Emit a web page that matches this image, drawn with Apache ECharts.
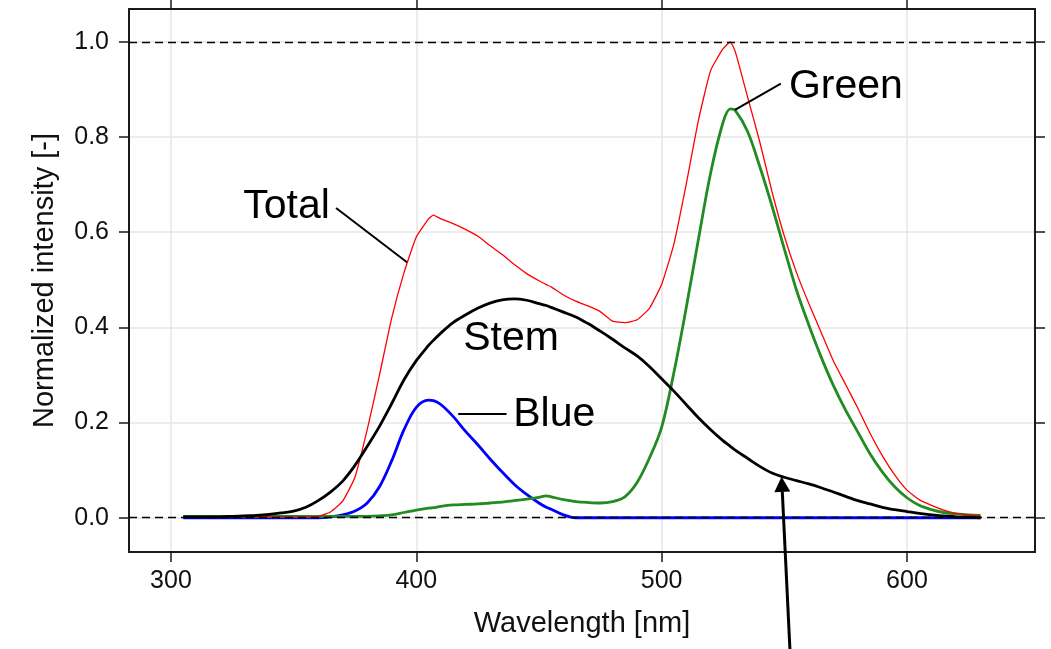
<!DOCTYPE html>
<html>
<head>
<meta charset="utf-8">
<script src="https://cdn.jsdelivr.net/npm/echarts@6/dist/echarts.min.js"></script>
<style>
  html, body { margin: 0; padding: 0; background: #fff; }
  #chart { width: 1051px; height: 649px; }
</style>
</head>
<body>
<div id="chart"></div>
<script>
// wavelength grid [nm] shared by all spectra
const wavelength = [305, 310, 315, 320, 325, 330, 335, 340, 345, 350, 355, 360, 365, 370, 375, 380, 385, 390, 395, 400, 405, 407,
  410, 415, 420, 425, 430, 435, 440, 445, 450, 453, 455, 460, 465, 470, 475, 480, 485, 490, 495, 500, 505, 510, 515, 520, 525, 528,
  530, 535, 540, 545, 550, 555, 560, 565, 570, 575, 580, 585, 590, 595, 600, 605, 610, 615, 620, 625, 630];

const total = [0.002, 0.002, 0.002, 0.002, 0.002, 0.002, 0.002, 0.002, 0.002, 0.002, 0.002, 0.003, 0.012, 0.035, 0.085, 0.185, 0.300, 0.420, 0.515, 0.590, 0.628, 0.636,
  0.628, 0.618, 0.606, 0.592, 0.572, 0.553, 0.532, 0.513, 0.498, 0.490, 0.485, 0.468, 0.455, 0.445, 0.433, 0.413, 0.410, 0.416, 0.440, 0.490, 0.575, 0.700, 0.835, 0.940, 0.985, 1.000,
  0.980, 0.885, 0.790, 0.685, 0.592, 0.515, 0.450, 0.390, 0.330, 0.280, 0.230, 0.177, 0.130, 0.090, 0.058, 0.038, 0.026, 0.016, 0.009, 0.006, 0.004];

const green = [0.003, 0.003, 0.003, 0.003, 0.003, 0.003, 0.003, 0.003, 0.003, 0.003, 0.003, 0.003, 0.003, 0.003, 0.003, 0.003, 0.004, 0.006, 0.011, 0.016, 0.020, 0.021,
  0.024, 0.027, 0.028, 0.029, 0.031, 0.033, 0.036, 0.039, 0.043, 0.046, 0.044, 0.038, 0.034, 0.032, 0.031, 0.034, 0.044, 0.074, 0.125, 0.190, 0.305, 0.440, 0.585, 0.725, 0.830, 0.859,
  0.856, 0.812, 0.738, 0.655, 0.565, 0.478, 0.405, 0.338, 0.278, 0.226, 0.180, 0.134, 0.096, 0.065, 0.042, 0.026, 0.017, 0.011, 0.008, 0.006, 0.005];

const blue = [0, 0, 0, 0, 0, 0, 0, 0, 0, 0, 0, 0, 0.002, 0.006, 0.014, 0.031, 0.065, 0.120, 0.185, 0.232, 0.247, 0.246,
  0.238, 0.213, 0.182, 0.154, 0.124, 0.096, 0.070, 0.049, 0.031, 0.022, 0.018, 0.006, 0, 0, 0, 0, 0, 0, 0, 0, 0, 0, 0, 0, 0, 0,
  0, 0, 0, 0, 0, 0, 0, 0, 0, 0, 0, 0, 0, 0, 0, 0, 0, 0, 0, 0, 0];

const stem = [0.002, 0.002, 0.002, 0.002, 0.003, 0.004, 0.005, 0.007, 0.010, 0.014, 0.022, 0.036, 0.054, 0.077, 0.110, 0.150, 0.192, 0.240, 0.290, 0.330, 0.362, 0.373,
  0.388, 0.410, 0.426, 0.440, 0.451, 0.458, 0.460, 0.457, 0.450, 0.446, 0.442, 0.432, 0.422, 0.408, 0.392, 0.375, 0.357, 0.340, 0.318, 0.292, 0.266, 0.238, 0.210, 0.185, 0.162, 0.150,
  0.142, 0.125, 0.108, 0.094, 0.085, 0.078, 0.071, 0.063, 0.054, 0.045, 0.036, 0.029, 0.022, 0.017, 0.013, 0.009, 0.006, 0.004, 0.002, 0.001, 0.000];

const xTicks = [300, 400, 500, 600];
const yTicks = [0, 0.2, 0.4, 0.6, 0.8, 1.0];
const refLines = [0, 1.0];

const X_MIN = 282.9, X_MAX = 652.2;
const Y_MIN = -0.072, Y_MAX = 1.069;

const FONT = '"Liberation Sans", Arial, sans-serif';
const AXIS_COLOR = '#111';

const pair = arr => wavelength.map((w, i) => [w, arr[i]]);

const chart = echarts.init(document.getElementById('chart'));

const frameAxis = {
  type: 'value',
  axisLine: { show: true, onZero: false, lineStyle: { color: '#1a1a1a', width: 2 } },
  axisTick: { show: true, inside: false, length: 10, lineStyle: { color: '#1a1a1a', width: 1.5 } }
};

const option = {
  animation: false,
  backgroundColor: '#fff',
  grid: { left: 129, right: 16, top: 9, bottom: 97, containLabel: false },
  xAxis: [
    {
      ...frameAxis,
      position: 'bottom',
      min: X_MIN, max: X_MAX,
      axisTick: { ...frameAxis.axisTick, customValues: xTicks },
      axisLabel: { customValues: xTicks, fontSize: 25, fontFamily: FONT, color: AXIS_COLOR, margin: 17 },
      splitLine: { show: true, lineStyle: { color: '#e6e6e6', width: 1.5 } },
      name: 'Wavelength [nm]',
      nameLocation: 'middle',
      nameGap: 57,
      nameTextStyle: { fontSize: 29, fontFamily: FONT, color: AXIS_COLOR }
    },
    {
      ...frameAxis,
      position: 'top',
      min: X_MIN, max: X_MAX,
      axisTick: { ...frameAxis.axisTick, length: 9, customValues: xTicks },
      axisLabel: { show: false },
      splitLine: { show: false }
    }
  ],
  yAxis: [
    {
      ...frameAxis,
      position: 'left',
      min: Y_MIN, max: Y_MAX,
      axisTick: { ...frameAxis.axisTick, customValues: yTicks },
      axisLabel: {
        customValues: yTicks, fontSize: 25, fontFamily: FONT, color: AXIS_COLOR, margin: 20,
        formatter: v => v.toFixed(1)
      },
      splitLine: { show: true, lineStyle: { color: '#e6e6e6', width: 1.5 } },
      name: 'Normalized intensity [-]',
      nameLocation: 'middle',
      nameGap: 70,
      nameTextStyle: { fontSize: 29, fontFamily: FONT, color: AXIS_COLOR }
    },
    {
      ...frameAxis,
      position: 'right',
      min: Y_MIN, max: Y_MAX,
      axisTick: { ...frameAxis.axisTick, customValues: yTicks },
      axisLabel: { show: false },
      splitLine: { show: false }
    }
  ],
  series: [
    {
      name: 'Blue', type: 'line', data: pair(blue), showSymbol: false, smooth: 0.35,
      lineStyle: { color: '#0000ff', width: 2.8 }, z: 2
    },
    {
      name: 'Green', type: 'line', data: pair(green), showSymbol: false, smooth: 0.35,
      lineStyle: { color: '#228b22', width: 2.8 }, z: 3
    },
    {
      name: 'Total', type: 'line', data: pair(total), showSymbol: false, smooth: 0.15,
      lineStyle: { color: '#ff0000', width: 1.3 }, z: 4
    },
    {
      name: 'Stem', type: 'line', data: pair(stem), showSymbol: false, smooth: 0.35,
      lineStyle: { color: '#000000', width: 2.8 }, z: 5
    },
    {
      // dashed reference lines at 0 and 1
      name: 'ref', type: 'line', data: [], z: 6,
      markLine: {
        silent: true, symbol: 'none', label: { show: false },
        lineStyle: { color: '#000', width: 1.3, type: [8, 5] },
        data: refLines.map(v => ({ yAxis: v }))
      }
    }
  ]
};

chart.setOption(option);

// annotation anchors in data coordinates
const notes = [
  { text: 'Total', at: [364.8, 0.653], align: 'right', from: [367.3, 0.651], to: [396.2, 0.537] },
  { text: 'Green', at: [551.9, 0.905], align: 'left', from: [548.6, 0.912], to: [529.9, 0.857] },
  { text: 'Stem', at: [419.1, 0.377], align: 'left' },
  { text: 'Blue', at: [439.5, 0.216], align: 'left', from: [417.1, 0.218], to: [436.8, 0.218] }
];
const arrowFrom = [552.3, -0.276];
const arrowTip = [548.9, 0.086];

const px = p => chart.convertToPixel({ xAxisIndex: 0, yAxisIndex: 0 }, p);
const graphics = [];
notes.forEach(n => {
  const p = px(n.at);
  graphics.push({
    type: 'text', x: p[0], y: p[1], z: 100,
    style: { text: n.text, fontSize: 41, fontFamily: FONT, fill: '#000', align: n.align, verticalAlign: 'middle' }
  });
  if (n.from) {
    const a = px(n.from), b = px(n.to);
    graphics.push({
      type: 'line', z: 100,
      shape: { x1: a[0], y1: a[1], x2: b[0], y2: b[1] },
      style: { stroke: '#000', lineWidth: 2 }
    });
  }
});
{
  const a = px(arrowFrom), t = px(arrowTip);
  const dx = t[0] - a[0], dy = t[1] - a[1];
  const len = Math.hypot(dx, dy);
  const ux = dx / len, uy = dy / len;
  const headLen = 15, headHalf = 8;
  const bx = t[0] - ux * headLen, by = t[1] - uy * headLen;
  graphics.push({
    type: 'line', z: 100,
    shape: { x1: a[0], y1: a[1], x2: bx, y2: by },
    style: { stroke: '#000', lineWidth: 3 }
  });
  graphics.push({
    type: 'polygon', z: 100,
    shape: { points: [[t[0], t[1]], [bx - uy * headHalf, by + ux * headHalf], [bx + uy * headHalf, by - ux * headHalf]] },
    style: { fill: '#000' }
  });
}
chart.setOption({ graphic: graphics });
</script>
</body>
</html>
